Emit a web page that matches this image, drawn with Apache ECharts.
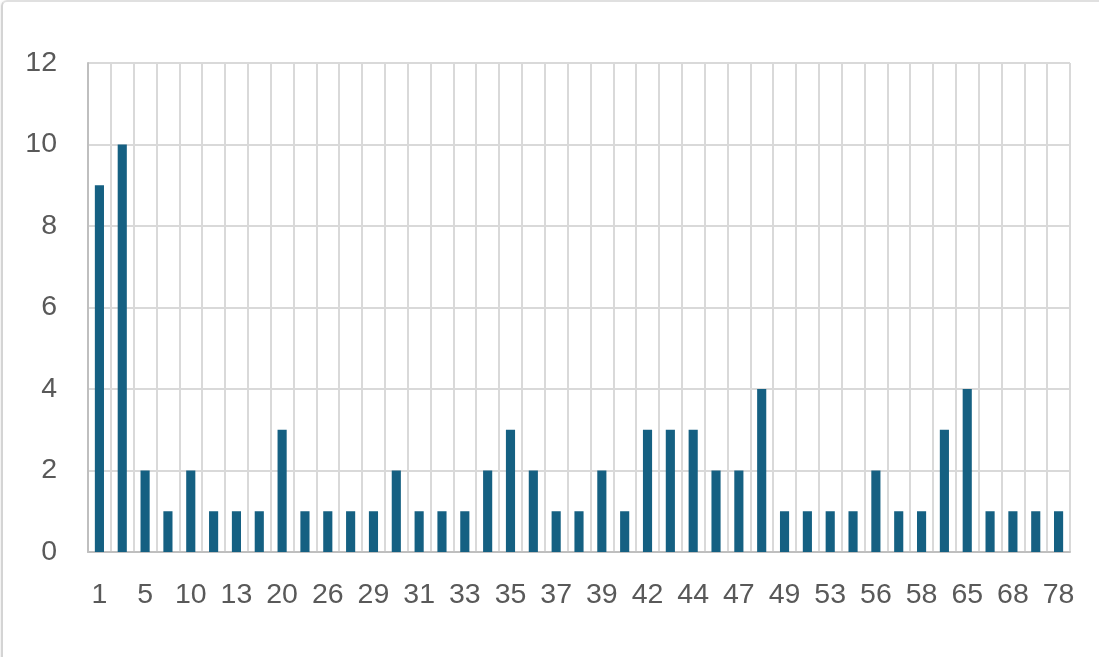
<!DOCTYPE html>
<html>
<head>
<meta charset="utf-8">
<script src="https://cdn.jsdelivr.net/npm/echarts@6/dist/echarts.min.js"></script>
<style>
html,body{margin:0;padding:0;background:#fff;}
#wrap{position:relative;width:1099px;height:657px;overflow:hidden;}
#frame{position:absolute;left:1px;top:0;width:1200px;height:700px;border-left:2px solid #d4d4d4;border-top:2px solid #e0e0e0;box-shadow:0 1px 4px rgba(0,0,0,0.12);border-radius:6px 0 0 0;pointer-events:none;}
#chart{position:absolute;left:0;top:0;width:1099px;height:657px;}
</style>
</head>
<body>
<div id="wrap"><div id="chart"></div><div id="frame"></div></div>
<script>
const categories = ['1','3','5','7','10','12','13','15','20','24','26','28','29','30','31','32','33','34','35','36','37','38','39','40','42','43','44','45','47','48','49','50','53','55','56','57','58','60','65','66','68','70','78'];
const values = [9,10,2,1,2,1,1,1,3,1,1,1,1,2,1,1,1,2,3,2,1,1,2,1,3,3,3,2,2,4,1,1,1,1,2,1,1,3,4,1,1,1,1];
const yTicks = {min:0,max:12,interval:2};

const chart = echarts.init(document.getElementById('chart'));
chart.setOption({
  animation:false,
  grid:{left:88,right:29,top:63,bottom:105,containLabel:false},
  xAxis:{
    type:'category',
    data:categories,
    axisLine:{show:true,lineStyle:{color:'#bfbfbf',width:2}},
    axisTick:{show:false},
    axisLabel:{interval:1,color:'#595959',fontSize:28.5,fontFamily:'Liberation Sans, Arial, sans-serif',margin:29},
    splitLine:{show:true,interval:0,lineStyle:{color:'#d9d9d9',width:2}}
  },
  yAxis:{
    type:'value',
    min:yTicks.min,max:yTicks.max,interval:yTicks.interval,
    axisLine:{show:true,lineStyle:{color:'#bfbfbf',width:2}},
    axisTick:{show:false},
    axisLabel:{color:'#595959',fontSize:28.5,fontFamily:'Liberation Sans, Arial, sans-serif',margin:31},
    splitLine:{show:true,lineStyle:{color:'#d9d9d9',width:2}}
  },
  series:[{
    type:'bar',
    data:values,
    barWidth:'40%',
    itemStyle:{color:'#156082'}
  }]
});
</script>
</body>
</html>
